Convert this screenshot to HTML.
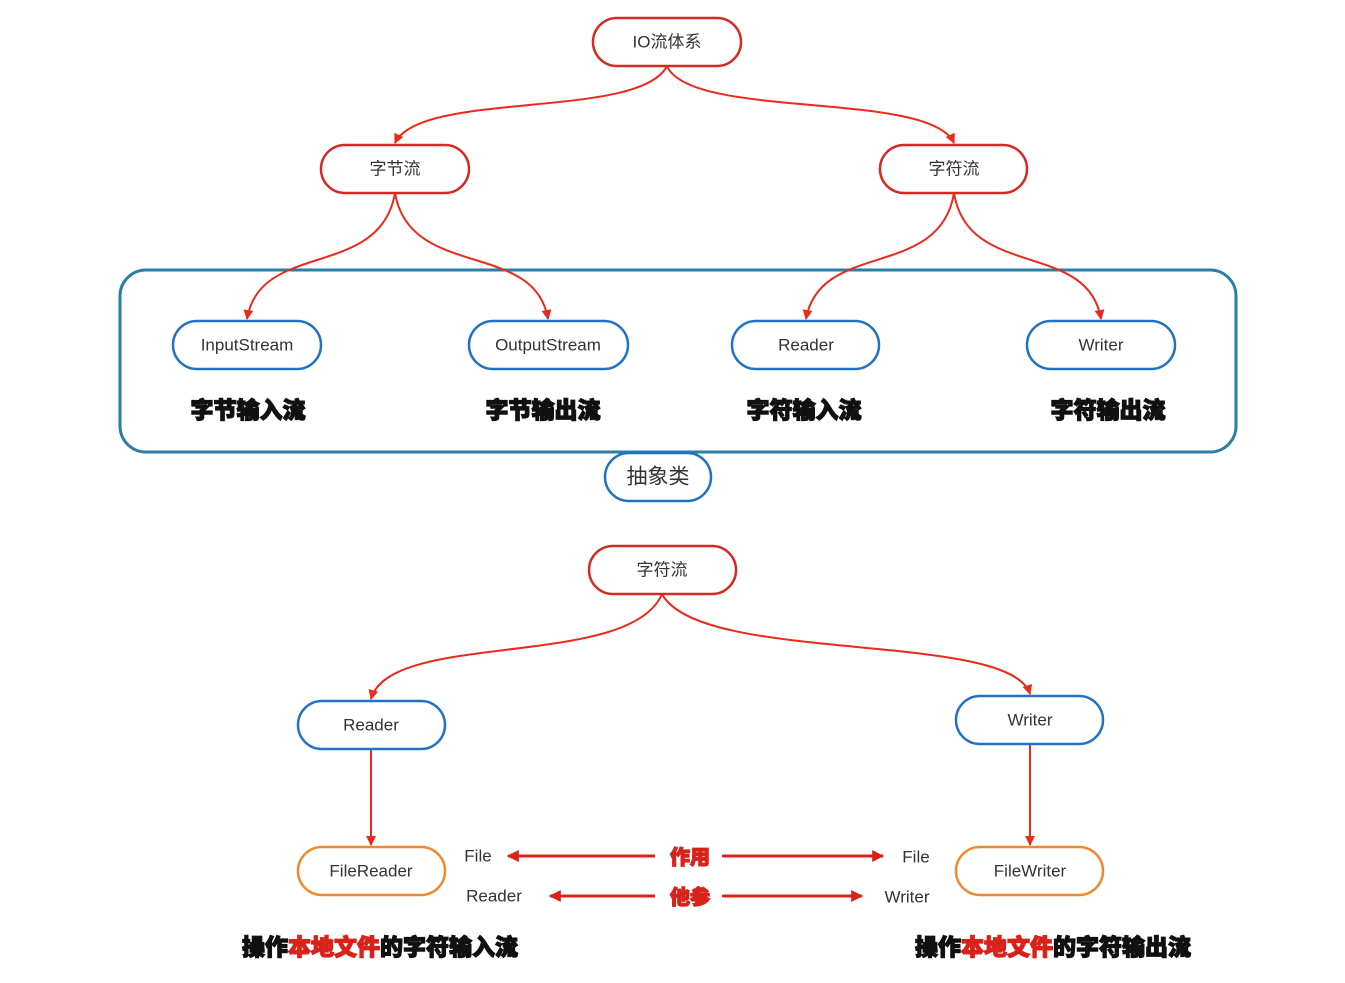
<!DOCTYPE html>
<html><head><meta charset="utf-8"><style>
body{margin:0;background:#fff}
svg text{font-family:"Liberation Sans","Noto Sans CJK SC",sans-serif}
.n{fill:#fff;stroke-width:2.5}
.r{stroke:#d42a23}.b{stroke:#1f72c4}.o{stroke:#ef8a2c}
.t{font-size:17px;fill:#333;text-anchor:middle;dominant-baseline:central}
.k{font-size:23px;font-weight:900;fill:#111;text-anchor:middle;dominant-baseline:central;stroke:#111;stroke-width:1.2}
.c{fill:none;stroke:#ea2a1a;stroke-width:2}
</style></head><body>
<svg width="1345" height="978" viewBox="0 0 1345 978">
<defs><marker id="a" viewBox="0 0 10 10" refX="9" refY="5" markerWidth="5" markerHeight="5" orient="auto"><path d="M0,0L10,5L0,10z" fill="#ea2a1a"/></marker>
<marker id="a2" viewBox="0 0 10 10" refX="9" refY="5" markerWidth="5" markerHeight="4" orient="auto"><path d="M0,0L10,5L0,10z" fill="#d8221a"/></marker></defs>
<rect x="120" y="270" width="1116" height="182" rx="26" fill="none" stroke="#2d7ea6" stroke-width="3"/>
<g class="c" marker-end="url(#a)">
<path d="M667,66 C640,120 420,90 395,143"/>
<path d="M667,66 C690,120 930,90 954,143"/>
<path d="M395,193 C380,280 260,240 247,319"/>
<path d="M395,193 C410,280 535,240 548,319"/>
<path d="M954,193 C940,280 820,240 806,319"/>
<path d="M954,193 C968,280 1088,240 1101,319"/>
<path d="M662,594 C630,670 390,630 371,699"/>
<path d="M662,594 C700,665 1010,630 1030,694"/>
<path d="M371,749 L371,845"/>
<path d="M1030,744 L1030,845"/>
</g>
<g stroke="#d8221a" stroke-width="3" marker-end="url(#a2)">
<path d="M655,856 L508,856"/><path d="M722,856 L883,856"/>
<path d="M655,896 L550,896"/><path d="M722,896 L862,896"/>
</g>
<rect class="n r" x="593" y="18" width="148" height="48" rx="24"/><text class="t" x="667" y="42">IO流体系</text>
<rect class="n r" x="321" y="145" width="148" height="48" rx="24"/><text class="t" x="395" y="169">字节流</text>
<rect class="n r" x="880" y="145" width="147" height="48" rx="24"/><text class="t" x="954" y="169">字符流</text>
<rect class="n b" x="173" y="321" width="148" height="48" rx="24"/><text class="t" x="247" y="345">InputStream</text>
<rect class="n b" x="469" y="321" width="159" height="48" rx="24"/><text class="t" x="548" y="345">OutputStream</text>
<rect class="n b" x="732" y="321" width="147" height="48" rx="24"/><text class="t" x="806" y="345">Reader</text>
<rect class="n b" x="1027" y="321" width="148" height="48" rx="24"/><text class="t" x="1101" y="345">Writer</text>
<text class="k" x="248" y="410">字节输入流</text><text class="k" x="543" y="410">字节输出流</text>
<text class="k" x="804" y="410">字符输入流</text><text class="k" x="1108" y="410">字符输出流</text>
<rect class="n b" x="605" y="453" width="106" height="48" rx="24"/><text class="t" x="658" y="477" style="font-size:21px">抽象类</text>
<rect class="n r" x="589" y="546" width="147" height="48" rx="24"/><text class="t" x="662" y="570">字符流</text>
<rect class="n b" x="298" y="701" width="147" height="48" rx="24"/><text class="t" x="371" y="725">Reader</text>
<rect class="n b" x="956" y="696" width="147" height="48" rx="24"/><text class="t" x="1030" y="720">Writer</text>
<rect class="n o" x="298" y="847" width="147" height="48" rx="24"/><text class="t" x="371" y="871">FileReader</text>
<rect class="n o" x="956" y="847" width="147" height="48" rx="24"/><text class="t" x="1030" y="871">FileWriter</text>
<text class="t" x="478" y="856">File</text><text class="t" x="494" y="896">Reader</text>
<text class="t" x="916" y="857">File</text><text class="t" x="907" y="897">Writer</text>
<text class="k" x="690" y="858" style="fill:#d8221a;stroke:#d8221a;font-size:20px">作用</text>
<text class="k" x="690" y="898" style="fill:#d8221a;stroke:#d8221a;font-size:20px">他参</text>
<text class="k" x="380" y="947" style="font-size:23px">操作<tspan fill="#d8221a" stroke="#d8221a">本地文件</tspan>的字符输入流</text>
<text class="k" x="1053" y="947" style="font-size:23px">操作<tspan fill="#d8221a" stroke="#d8221a">本地文件</tspan>的字符输出流</text>
</svg>
</body></html>
